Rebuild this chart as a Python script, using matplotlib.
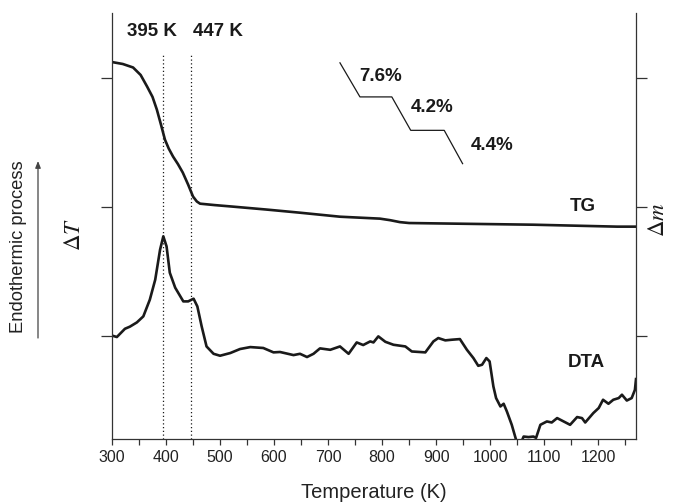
import numpy as np
import matplotlib
matplotlib.use('Agg')
from matplotlib import pyplot as plt
from matplotlib.ticker import MultipleLocator

plt.rcParams['font.family']=['Liberation Sans','DejaVu Sans']
plt.rcParams['mathtext.fontset']='stix'

# TG curve (arbitrary units)
tg_T=[300,320,339,353,365,375,383,391,398,405,413,422,431,441,450,457,463,490,524,587,648,722,796,815,833,850,1080,1235,1270]
tg_y=[3.12,3.105,3.078,3.02,2.930,2.85,2.752,2.63,2.519,2.45,2.388,2.33,2.264,2.17,2.078,2.04,2.023,2.012,2.0,1.977,1.953,1.922,1.907,1.895,1.880,1.873,1.860,1.845,1.845]

# DTA curve
dta_T=[301,309,324,333,346,358,370,380,389,395,401,407,417,432,441,451,458,466,475,488,500,
       519,537,556,580,599,611,636,648,661,673,685,704,722,738,753,765,778,784,793,806,821,
       843,855,880,895,904,917,929,944,957,969,978,985,993,999,1006,1011,1019,1025,1031,1040,
       1048,1054,1062,1071,1080,1085,1093,1105,1114,1124,1136,1148,1161,1170,1176,1191,1201,
       1209,1219,1228,1238,1244,1253,1262,1268,1270]
dta_y=[1.000,0.990,1.054,1.070,1.103,1.150,1.279,1.434,1.667,1.770,1.692,1.488,1.372,1.266,1.266,1.287,1.227,1.072,0.917,0.860,0.845,
       0.866,0.897,0.912,0.905,0.871,0.874,0.850,0.860,0.835,0.860,0.902,0.891,0.917,0.860,0.948,0.928,0.956,0.948,0.995,0.953,0.930,
       0.917,0.878,0.871,0.956,0.982,0.964,0.969,0.974,0.891,0.827,0.767,0.775,0.827,0.801,0.607,0.517,0.452,0.473,0.413,0.310,
       0.194,0.14,0.219,0.215,0.219,0.209,0.310,0.336,0.328,0.362,0.336,0.310,0.370,0.362,0.328,0.401,0.440,
       0.504,0.473,0.504,0.517,0.543,0.498,0.517,0.581,0.664]

# mass-loss step sketch and its labels
step_T=[722,759,818,853,915,949]
step_y=[3.114,2.850,2.850,2.591,2.591,2.333]
step_labels=['7.6%','4.2%','4.4%']
step_label_T=[798,893,1004]
step_label_y=[3.008,2.767,2.473]

peaks=[395,447]
peak_labels=['395 K','447 K']
peak_label_T=[374,496]

fig=plt.figure(figsize=(6.85,5.03),dpi=100)
ax=fig.add_axes([112/685,1-439/503,(636-112)/685,(439-13)/503])
ink='#1a1a1a'

ax.plot(tg_T,tg_y,color=ink,lw=1.9,solid_joinstyle='round')
ax.plot(dta_T,dta_y,color=ink,lw=1.9,solid_joinstyle='round')
ax.plot(step_T,step_y,color=ink,lw=0.9)
for t,yy,s in zip(step_label_T,step_label_y,step_labels):
    ax.text(t,yy,s,ha='center',va='center',fontsize=13.5,fontweight='bold',color=ink)
for p in peaks:
    ax.axvline(p,ymax=(3.18-0.2)/(3.5-0.2),color=ink,lw=0.9,ls=(0,(1,2)))
for t,s in zip(peak_label_T,peak_labels):
    ax.text(t,3.355,s,ha='center',va='center',fontsize=13.5,fontweight='bold',color=ink,clip_on=False)
ax.text(1172,2.0,'TG',ha='center',va='center',fontsize=13.5,fontweight='bold',color=ink)
ax.text(1178,0.79,'DTA',ha='center',va='center',fontsize=13.5,fontweight='bold',color=ink)

ax.set_xlim(300,1270)
ax.set_ylim(0.2,3.5)
ax.spines['top'].set_visible(False)
for s in ['left','right','bottom']:
    ax.spines[s].set_linewidth(0.9)
    ax.spines[s].set_color('#333333')
ax.xaxis.set_major_locator(MultipleLocator(100))
ax.xaxis.set_minor_locator(MultipleLocator(50))
ax.set_yticks([1,2,3])
ax.set_yticklabels([])
ax.tick_params(axis='y',left=True,right=True,direction='out',length=8,width=0.9,color='#333333')
ax.tick_params(axis='x',which='both',direction='out',length=4.5,width=0.9,color='#333333',
               labelsize=11.5,labelcolor='#222222',pad=3.5)
ax.set_xlabel('Temperature (K)',fontsize=14.5,color='#222222',labelpad=13)

fig.text(74/685,1-234/503,r'$\Delta T$',rotation=90,ha='center',va='center',fontsize=16.5,color=ink)
fig.text(657/685,1-220/503,r'$\Delta m$',rotation=90,ha='center',va='center',fontsize=16.5,color=ink)
fig.text(18.5/685,1-247/503,'Endothermic process',rotation=90,ha='center',va='center',fontsize=13.2,color='#222222')
fig.add_artist(matplotlib.patches.FancyArrowPatch((38/685,1-338/503),(38/685,1-161/503),
               transform=fig.transFigure,arrowstyle='-|>,head_length=4,head_width=1.6',
               color='#444444',lw=0.9,shrinkA=0,shrinkB=0))

fig.savefig('out.png',dpi=100)
